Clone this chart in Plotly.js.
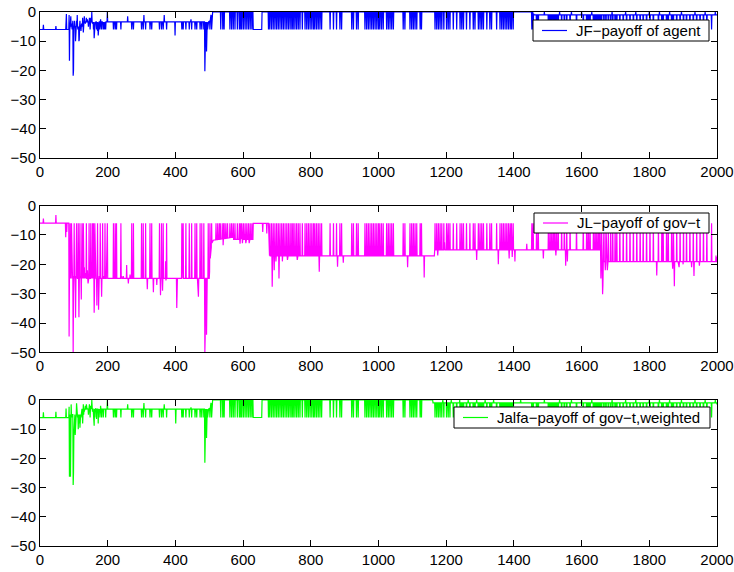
<!DOCTYPE html>
<html>
<head>
<meta charset="utf-8">
<script src="https://cdn.plot.ly/plotly-3.0.1.min.js"></script>
<style>html,body{margin:0;padding:0;background:#fff;}#chart{width:734px;height:572px;}</style>
</head>
<body>
<div id="chart"></div>
<script>
// ---------- DATA ----------
const seriesNames = ["JF\u2212payoff of agent", "JL\u2212payoff of gov\u2212t", "Jalfa\u2212payoff of gov\u2212t,weighted"];
const xTicks = [0, 200, 400, 600, 800, 1000, 1200, 1400, 1600, 1800, 2000];
const yTicks = [-50, -40, -30, -20, -10, 0];

// time steps at which all three payoffs jump to the common level (about -6)
const switchSteps = [217,222,226,239,271,276,300,305,312,325,330,353,359,364,374,419,423,431,441,448,458,463,473,478,484,497,
  502,507,534,540,544,561,566,571,576,583,589,593,596,601,606,611,616,621,626,675,679,
  684,689,694,699,704,709,714,719,724,729,734,739,744,748,753,758,763,768,775,783,788,793,798,803,808,812,817,822,827,832,
  857,867,876,886,891,921,926,935,940,960,965,970,975,980,985,990,995,1000,1004,1009,1014,1024,1029,1034,1039,1044,1073,1078,1093,1098,1103,1108,1113,1123,1127,
  1167,1172,1177,1182,1187,1193,1201,1206,1211,1221,1231,1241,1246,1251,1260,1270,1280,1285,1295,1300,1305,1310,1320,1329,1334,1349,1359,1364,1369,1374,1379,1384,1389,1393,1398,
  1453,1457,1467,1472,1502,1507,1512,1517,1521,1526,1531,1541,1549,1556,1566,1585,1605,1615,1620,1625,1635,1640,1645,1650,1654,1659,1666,1672,1679,1686,1692,1699,1704,1713,1723,1733,1743,1753,1763,1773,1782,1792,1802,1812,1827,1837,1841,1851,1856,1866,1871,1881,1891,1901,1910,1920,1930,1940,1950,1960,1970,1984];
const switchLevel = -6;

// JF (agent) : baseline knots and individual excursions
const jfBaseX = [0, 85, 86, 129, 130, 500, 510, 629, 630, 655, 656, 1455, 1460, 2000];
const jfBaseY = [-6, -6, -5, -5, -3.4, -3.4, 0, 0, -6, -6, 0, 0, -1, -1];
const jfSpikeX = [10,47,77,78,86,87,88,90,91,93,95,97,98,99,100,102,105,106,108,110,112,115,116,118,121,123,126,128,131,134,137,140,143,146,148,150,153,155,158,160,162,164,167,170,172,174,177,179,182,185,187,190,194,199,
  259,307,367,399,446,487,488,490,492,495,500,503,505,508,
  1490,1535,1570,1600,1630,1690,1730,1760,1800,1830,1860,1895,1935,1965,1995,2000];
const jfSpikeY = [-4.4,-4.8,-0.7,-0.7,-1,-16.7,-6,-1.5,-1.5,-4,-6,-3,-21.8,-20,-6,-3,-10,-6,-3,-1,-6,-10,-9.5,-3,-6.5,-4,-2,-7,-1.5,-4,-2,-2.5,-5,-2,-6,-2,0,-4,-6,-9,-6,-3.5,-6,-6.5,-8,-4,-6,-2.5,-6,-4,-6,-6,-6,0,
  -1.5,-1,-1,-8,-2.5,-20.3,-14,-6,-13.5,-6,-6,-3,-1,-4,
  0,0,0,0,0,0,0,0,0,0,0,0,0,0,0,-1];

// JL (government)
const jlBaseX = [0, 85, 86, 500, 503, 507, 512, 570, 571, 629, 630, 675, 676, 1165, 1166, 1656, 1657, 2000];
const jlBaseY = [-6, -6, -24.8, -24.8, -18, -13, -11.8, -10.8, -11.5, -11.5, -6.1, -6.1, -17.1, -17.1, -15.1, -15.1, -19.1, -19.1];
const jlSpikeX = [10,47,76,79,86,87,89,91,93,95,97,98,99,101,103,105,106,108,110,113,115,116,118,120,122,124,126,128,131,133,135,137,140,142,145,150,152,155,158,160,161,162,166,168,170,173,175,178,182,185,188,192,197,198,199,
  241,246,256,261,266,317,335,345,356,362,371,372,404,405,466,468,487,488,492,493,
  520,525,530,541,549,554,591,598,608,618,627,628,658,670,686,692,697,706,716,731,760,825,879,896,1086,1135,
  1175,1195,1205,1290,1354,1386,1395,1403,1438,1487,1524,1553,1558,1657,1662,1663,1664,1670,1676,1822,1869,1874,1886,1888,1900,1925,1932,1948,1997,2000];
const jlSpikeY = [-4.4,-3.2,-10.8,-9,-44.6,-24,-6,-24,-6,-24,-24,-50,-30,-6,-24,-38.2,-24,-6,-24,-6,-38,-30,-6,-24,-32,-6,-20,-6,-21,-24,-23,-6,-22,-26.5,-6,-6,-24,-6,-6,-36.5,-30,-6,-25,-34,-6,-35.5,-24,-6,-31,-6,-24,-6,-16.5,-16.5,-6,
  -24,-24,-20.2,-26.5,-23.5,-28.5,-29.5,-27,-30.5,-29,-19,-25.5,-34.9,-30,-31,-31,-50,-45,-44,-30,
  -6,-6,-6,-13.5,-6,-6,-13,-12.8,-12.8,-12.8,-11.5,-11.5,-9,-9.5,-27.6,-22,-19,-24.8,-19,-18.5,-18.5,-22.5,-20.8,-19.5,-21,-24.5,
  -17,-12.5,-12,-18.5,-20,-18,-17.5,-19,-13,-18,-17,-20.5,-19,-24.8,-30.2,-27,-20,-22,-22,-23.8,-21.5,-27.5,-21,-21,-20,-21,-24,-20.5,-17,-17.5];

// Jalfa (government, weighted)
const jaBaseX = [0, 85, 86, 129, 130, 500, 510, 629, 630, 655, 656, 1160, 1161, 2000];
const jaBaseY = [-6.05, -6.05, -5, -5, -3.1, -3.1, 0, 0, -6, -6, 0, 0, -1, -1];
const jaSpikeX = [10,47,77,86,87,88,90,91,92,95,98,99,100,102,104,106,108,111,113,115,118,121,124,126,128,131,134,137,140,143,146,148,150,153,155,158,160,162,164,167,172,174,177,179,182,187,194,199,
  259,307,367,401,446,487,488,490,492,495,500,503,505,508,
  1190,1215,1240,1265,1290,1315,1340,1420,1490,1535,1570,1600,1630,1690,1730,1760,1800,1830,1860,1895,1935,1965,1995,2000];
const jaSpikeY = [-4.2,-4,-2.9,-2.3,-26.3,-20,-26.3,-12,-1.5,-6,-29.1,-25,-12,-6,-12,-8,-1.1,-6,-10,-8,-9.5,-6,-3,-8,-1.5,-4,-2,-1.5,-3,-5,-1.5,-6,-2,0,-4,-6,-8.8,-6,-3,-6.5,-8,-4,-6,-2,-6,-6,-6,0,
  -1.5,-1,-1.5,-8,-2.5,-21.5,-15,-6,-13,-6,-6,-3,-1,-4,
  0,0,0,0,0,0,0,0,0,0,0,0,0,0,0,0,0,0,0,0,0,0,0,-1.5];

// ---------- BUILD POLYLINES ----------
function baseAt(bx, by, t) {
  for (let i = 0; i < bx.length - 1; i++) {
    if (t >= bx[i] && t <= bx[i + 1]) {
      if (bx[i + 1] === bx[i]) return by[i];
      return by[i] + (by[i + 1] - by[i]) * (t - bx[i]) / (bx[i + 1] - bx[i]);
    }
  }
  return by[by.length - 1];
}
function buildSeries(bx, by, sx, sy, sw) {
  const spike = new Map();
  sw.forEach(t => spike.set(t, switchLevel));
  sx.forEach((t, i) => spike.set(t, sy[i]));
  const ts = new Set(bx);
  spike.forEach((v, t) => { ts.add(t - 1); ts.add(t); ts.add(t + 1); });
  const xs = [...ts].filter(t => t >= 0 && t <= 2000).sort((a, b) => a - b);
  const ys = xs.map(t => spike.has(t) ? spike.get(t) : baseAt(bx, by, t));
  return { xs, ys };
}
function filterSwitch(bx, by) {
  return switchSteps.filter(t => Math.abs(baseAt(bx, by, t) - switchLevel) > 0.3);
}
const jf = buildSeries(jfBaseX, jfBaseY, jfSpikeX, jfSpikeY, filterSwitch(jfBaseX, jfBaseY));
const jl = buildSeries(jlBaseX, jlBaseY, jlSpikeX, jlSpikeY, filterSwitch(jlBaseX, jlBaseY));
const ja = buildSeries(jaBaseX, jaBaseY, jaSpikeX, jaSpikeY, filterSwitch(jaBaseX, jaBaseY));

const colors = ['#0000ff', '#ff00ff', '#00ff00'];
const traces = [
  { x: jf.xs, y: jf.ys, type: 'scatter', mode: 'lines', name: seriesNames[0], line: { color: colors[0], width: 1.2 }, xaxis: 'x', yaxis: 'y', showlegend: false },
  { x: jl.xs, y: jl.ys, type: 'scatter', mode: 'lines', name: seriesNames[1], line: { color: colors[1], width: 1.2 }, xaxis: 'x2', yaxis: 'y2', showlegend: false },
  { x: ja.xs, y: ja.ys, type: 'scatter', mode: 'lines', name: seriesNames[2], line: { color: colors[2], width: 1.2 }, xaxis: 'x3', yaxis: 'y3', showlegend: false }
];

const FONT = 'Liberation Sans, Arial, Helvetica, sans-serif';
function xAx(anchor) {
  return { anchor: anchor, domain: [0, 1], range: [0, 2000], tickvals: xTicks, ticktext: xTicks.map(String),
    ticks: 'inside', ticklen: 6, tickwidth: 1, tickcolor: '#000', showline: true, linecolor: '#000', linewidth: 1,
    mirror: 'ticks', showgrid: false, zeroline: false, fixedrange: true, tickfont: { family: FONT, size: 15, color: '#000' } };
}
function yAx(anchor, dom) {
  return { anchor: anchor, domain: dom, range: [-50, 0], tickvals: yTicks, ticktext: yTicks.map(v => v < 0 ? '\u2212' + (-v) : String(v)),
    ticks: 'inside', ticklen: 6, tickwidth: 1, tickcolor: '#000', showline: true, linecolor: '#000', linewidth: 1,
    mirror: 'ticks', showgrid: false, zeroline: false, fixedrange: true, tickfont: { family: FONT, size: 15, color: '#000' } };
}

// ---------- LEGEND BOXES (MATLAB style, one per panel) ----------
const M = { l: 40, r: 17, t: 12, b: 26 };
const W = 734, H = 572, PW = W - M.l - M.r, PH = H - M.t - M.b;
const px2x = p => (p - M.l) / PW;
const px2y = p => (H - M.b - p) / PH;
// pixel boxes: [left, top, right, bottom]
const legendBoxes = [[533, 20, 709, 41], [534, 213, 709, 233], [454, 407, 710, 428]];
const shapes = [], annotations = [];
legendBoxes.forEach((b, i) => {
  const cy = (b[1] + b[3]) / 2;
  shapes.push({ type: 'rect', xref: 'paper', yref: 'paper', x0: px2x(b[0]), x1: px2x(b[2]), y0: px2y(b[3]), y1: px2y(b[1]),
    fillcolor: '#fff', line: { color: '#000', width: 1 }, layer: 'above' });
  shapes.push({ type: 'line', xref: 'paper', yref: 'paper', x0: px2x(b[0] + 9), x1: px2x(b[0] + 34), y0: px2y(cy), y1: px2y(cy),
    line: { color: colors[i], width: 1.2 }, layer: 'above' });
  annotations.push({ xref: 'paper', yref: 'paper', x: px2x(b[0] + 41), y: px2y(cy), xanchor: 'left', yanchor: 'middle',
    text: seriesNames[i], showarrow: false, font: { family: FONT, size: 15, color: '#000' } });
});

const layout = {
  width: W, height: H,
  margin: M,
  paper_bgcolor: '#fff', plot_bgcolor: '#fff',
  showlegend: false,
  xaxis: xAx('y'), yaxis: yAx('x', [0.7266, 1]),
  xaxis2: xAx('y2'), yaxis2: yAx('x2', [0.3624, 0.6376]),
  xaxis3: xAx('y3'), yaxis3: yAx('x3', [0, 0.2734]),
  shapes: shapes,
  annotations: annotations
};
Plotly.newPlot('chart', traces, layout, { staticPlot: true, displayModeBar: false });
</script>
</body>
</html>
